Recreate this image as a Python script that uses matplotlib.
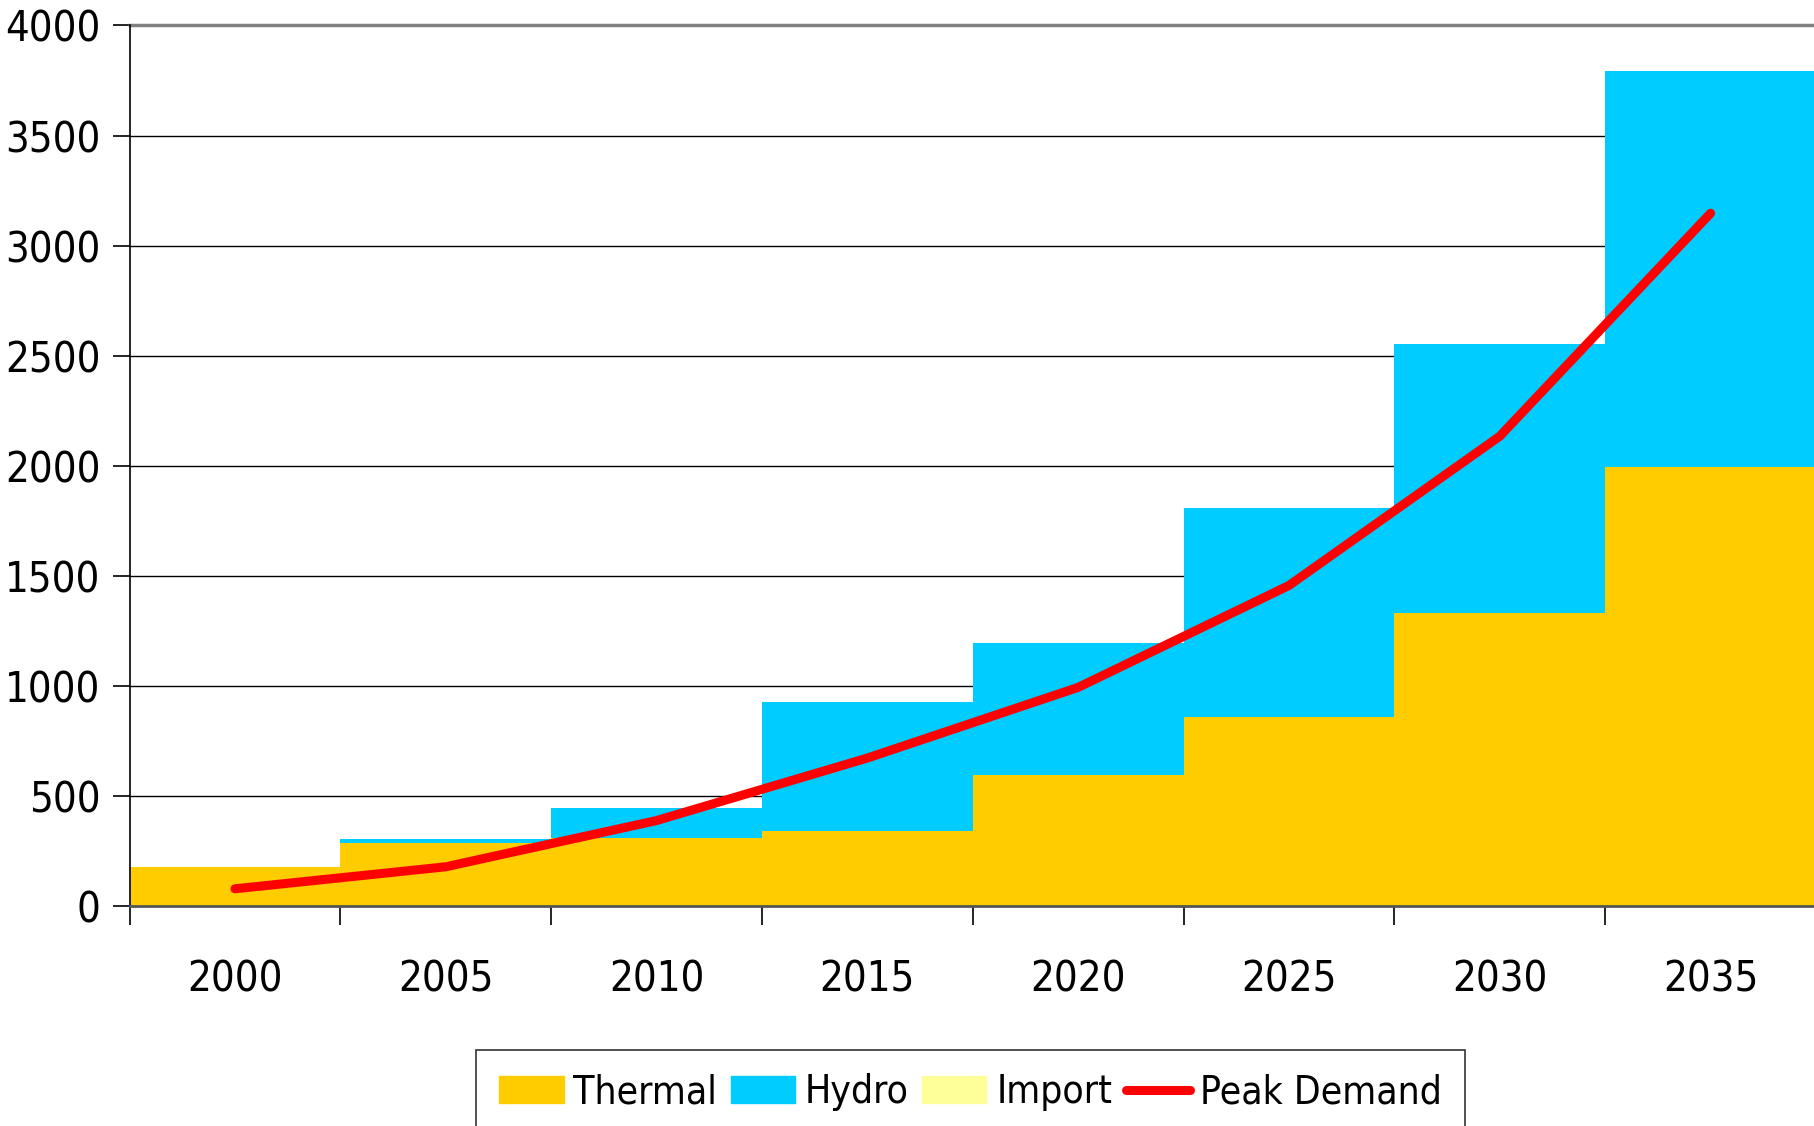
import matplotlib
matplotlib.use("Agg")
import matplotlib.pyplot as plt
import matplotlib.font_manager as fm
from matplotlib.patches import Patch
from matplotlib.lines import Line2D

# prefer a narrow sans face if one is on the system
font_names = {f.name for f in fm.fontManager.ttflist}
dejavu_cond = [f for f in fm.fontManager.ttflist
               if f.name == "DejaVu Sans" and "Condensed" in f.fname]
font_size = 31
legend_size = 29
if "Liberation Sans Narrow" in font_names:
    plt.rcParams['font.family'] = ['Liberation Sans Narrow', 'DejaVu Sans']
    font_size = 34
    legend_size = 34
elif dejavu_cond:
    plt.rcParams['font.family'] = ['DejaVu Sans']
    plt.rcParams['font.stretch'] = 'condensed'
    font_size = 30
    legend_size = 28
else:
    plt.rcParams['font.family'] = ['Liberation Sans', 'DejaVu Sans']

# installed capacity (MW) per period and peak demand
years = ["2000", "2005", "2010", "2015", "2020", "2025", "2030", "2035"]
thermal = [175, 285, 310, 340, 595, 860, 1330, 1995]
hydro = [0, 20, 135, 585, 600, 950, 1225, 1800]
imports = [0, 0, 0, 0, 0, 0, 0, 0]
peak_demand = [78, 178, 388, 672, 993, 1456, 2134, 3147]

c_thermal = "#FFCC00"
c_hydro = "#00CCFF"
c_import = "#FFFF99"
c_peak = "#FF0000"

fig = plt.figure(figsize=(18.14, 11.26), dpi=100)
ax = fig.add_axes([0.0714, 0.1954, 0.9297, 0.782])

x = list(range(len(years)))
ax.bar(x, thermal, width=1.0, color=c_thermal, zorder=1)
ax.bar(x, hydro, width=1.0, bottom=thermal, color=c_hydro, zorder=1)
bottom2 = [t + h for t, h in zip(thermal, hydro)]
ax.bar(x, imports, width=1.0, bottom=bottom2, color=c_import, zorder=1)
ax.plot(x, peak_demand, color=c_peak, lw=6.5, solid_capstyle="round", zorder=3)

ax.set_xlim(-0.5, len(years) - 0.5)
ax.set_ylim(0, 4000)
ax.set_yticks(range(0, 4001, 500))

# category boundaries get the tick marks, centres get the labels
ax.set_xticks([i - 0.5 for i in range(len(years) + 1)])
ax.set_xticklabels([])
ax.set_xticks(x, minor=True)
ax.set_xticklabels(years, minor=True)

ax.tick_params(axis="y", which="major", direction="out", length=12, width=1.2,
               pad=9, labelsize=font_size, color="black")
ax.tick_params(axis="x", which="major", direction="out", length=14, width=1.2,
               color="black")
ax.tick_params(axis="x", which="minor", length=0, pad=38, labelsize=font_size)

ax.yaxis.grid(True, color="black", lw=1)
ax.set_axisbelow(True)
ax.axhline(4000, color="#808080", lw=2.5, clip_on=False, zorder=0.6)

for side in ["top", "right"]:
    ax.spines[side].set_visible(False)
ax.spines["left"].set_color("black")
ax.spines["left"].set_linewidth(1.2)
ax.spines["bottom"].set_color("#555555")
ax.spines["bottom"].set_linewidth(2)

handles = [Patch(color=c_thermal), Patch(color=c_hydro), Patch(color=c_import),
           Line2D([0], [0], color=c_peak, lw=6.5, solid_capstyle="round")]
labels = ["Thermal", "Hydro", "Import", "Peak Demand"]
leg = fig.legend(handles, labels, loc="upper center", bbox_to_anchor=(0.535, 0.0675),
                 ncol=4, fontsize=legend_size, frameon=True, fancybox=False,
                 handlelength=1.65, handleheight=0.7, handletextpad=0.25,
                 columnspacing=0.35, borderpad=0.6, borderaxespad=0)
leg.get_frame().set_edgecolor("black")
leg.get_frame().set_linewidth(1.2)

plt.savefig("out.png", dpi=100)
